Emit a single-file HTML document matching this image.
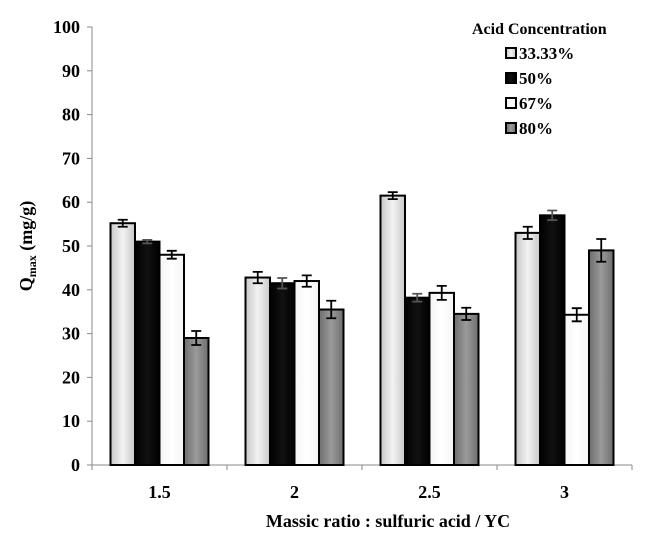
<!DOCTYPE html>
<html><head><meta charset="utf-8"><style>
body{margin:0;background:#fff;}
svg text{font-family:"Liberation Serif",serif;font-weight:bold;}
</style></head><body>
<svg id="chart" width="655" height="545" viewBox="0 0 655 545">
<defs>
<linearGradient id="g0" x1="0" x2="1"><stop offset="0" stop-color="#c8c8c8"/><stop offset="0.5" stop-color="#f2f2f2"/><stop offset="1" stop-color="#c8c8c8"/></linearGradient>
<linearGradient id="g1" x1="0" x2="1"><stop offset="0" stop-color="#000"/><stop offset="0.5" stop-color="#111"/><stop offset="1" stop-color="#000"/></linearGradient>
<linearGradient id="g2" x1="0" x2="1"><stop offset="0" stop-color="#f4f4f4"/><stop offset="0.5" stop-color="#fff"/><stop offset="1" stop-color="#f4f4f4"/></linearGradient>
<linearGradient id="g3" x1="0" x2="1"><stop offset="0" stop-color="#6e6e6e"/><stop offset="0.5" stop-color="#9a9a9a"/><stop offset="1" stop-color="#6e6e6e"/></linearGradient>
</defs>
<g id="plot"></g>
</svg>
<script>
const categories = ["1.5","2","2.5","3"];
const seriesNames = ["33.33%","50%","67%","80%"];
const s33 = [55.2, 42.8, 61.5, 53];
const s50 = [51, 41.5, 38.2, 57];
const s67 = [48, 42, 39.3, 34.3];
const s80 = [29, 35.5, 34.5, 49];
const e33 = [0.8, 1.3, 0.8, 1.4];
const e50 = [0.4, 1.2, 0.9, 1.1];
const e67 = [0.9, 1.3, 1.6, 1.5];
const e80 = [1.6, 2.0, 1.4, 2.6];
const yTicks = [0,10,20,30,40,50,60,70,80,90,100];

const NS="http://www.w3.org/2000/svg";
const g=document.getElementById('plot');
const x0=92, x1=632, y0=465, y1=27;
const bandW=(x1-x0)/categories.length;
const barW=24.5;
function yScale(v){return y0-(v-0)/(100-0)*(y0-y1);}
function xCenter(i){return x0+bandW*(i+0.5);}
function mk(tag,attrs){const e=document.createElementNS(NS,tag);for(const k in attrs)e.setAttribute(k,attrs[k]);g.appendChild(e);return e;}

// axes
let ax=mk('line',{x1:x0,y1:y1,x2:x0,y2:y0,stroke:'#888','stroke-width':1});


ax=mk('line',{x1:x0,y1:y0,x2:x1,y2:y0,stroke:'#888','stroke-width':1});


yTicks.forEach(v=>{
  const y=yScale(v);
  let t=mk('line',{x1:x0-5,y1:y,x2:x0,y2:y,stroke:'#888'});
  
  
  let l=mk('text',{x:x0-12,y:y+6,'text-anchor':'end','font-size':18});
  l.textContent=v;
  
  
});
for(let i=0;i<=categories.length;i++){
  let t=mk('line',{x1:x0+bandW*i,y1:y0,x2:x0+bandW*i,y2:y0+5,stroke:'#888'});
  
  
}
const series=[s33,s50,s67,s80], errs=[e33,e50,e67,e80], fills=['url(#g0)','url(#g1)','url(#g2)','url(#g3)'];
categories.forEach((c,i)=>{
  const cx=xCenter(i);
  series.forEach((s,j)=>{
    const bx=cx-2*barW+j*barW, by=yScale(s[i]);
    let r=mk('rect',{x:bx,y:by,width:barW,height:y0-by,fill:fills[j],stroke:'#000','stroke-width':2});
    
    
    const mx=bx+barW/2, ya=yScale(s[i]+errs[j][i]), yb=yScale(s[i]-errs[j][i]);
    const col=j===1?'#555':'#000';
    let eb=mk('path',{d:`M${mx},${ya}V${yb}M${mx-5},${ya}H${mx+5}M${mx-5},${yb}H${mx+5}`,stroke:col,'stroke-width':1.8,fill:'none'});
    
    
  });
  let l=mk('text',{x:cx,y:y0+33,'text-anchor':'middle','font-size':18});
  l.textContent=c;
  
  
});
let xt=mk('text',{x:388,y:527,'text-anchor':'middle','font-size':18});
xt.textContent='Massic ratio : sulfuric acid / YC';


let yt=mk('text',{transform:'translate(32,246) rotate(-90)','text-anchor':'middle','font-size':18});
yt.innerHTML='Q<tspan font-size="12" dy="4">max</tspan><tspan dy="-4">  (mg/g)</tspan>';


// legend
let lt=mk('text',{x:472,y:34,'font-size':16});
lt.textContent='Acid Concentration';


seriesNames.forEach((n,j)=>{
  const y=58+j*25;
  let b=mk('rect',{x:506,y:y-10,width:10,height:10,fill:fills[j],stroke:'#000','stroke-width':2});
  
  
  let t=mk('text',{x:519,y:y+1,'font-size':17});
  t.textContent=n;
  
  
});
</script>
</body></html>
